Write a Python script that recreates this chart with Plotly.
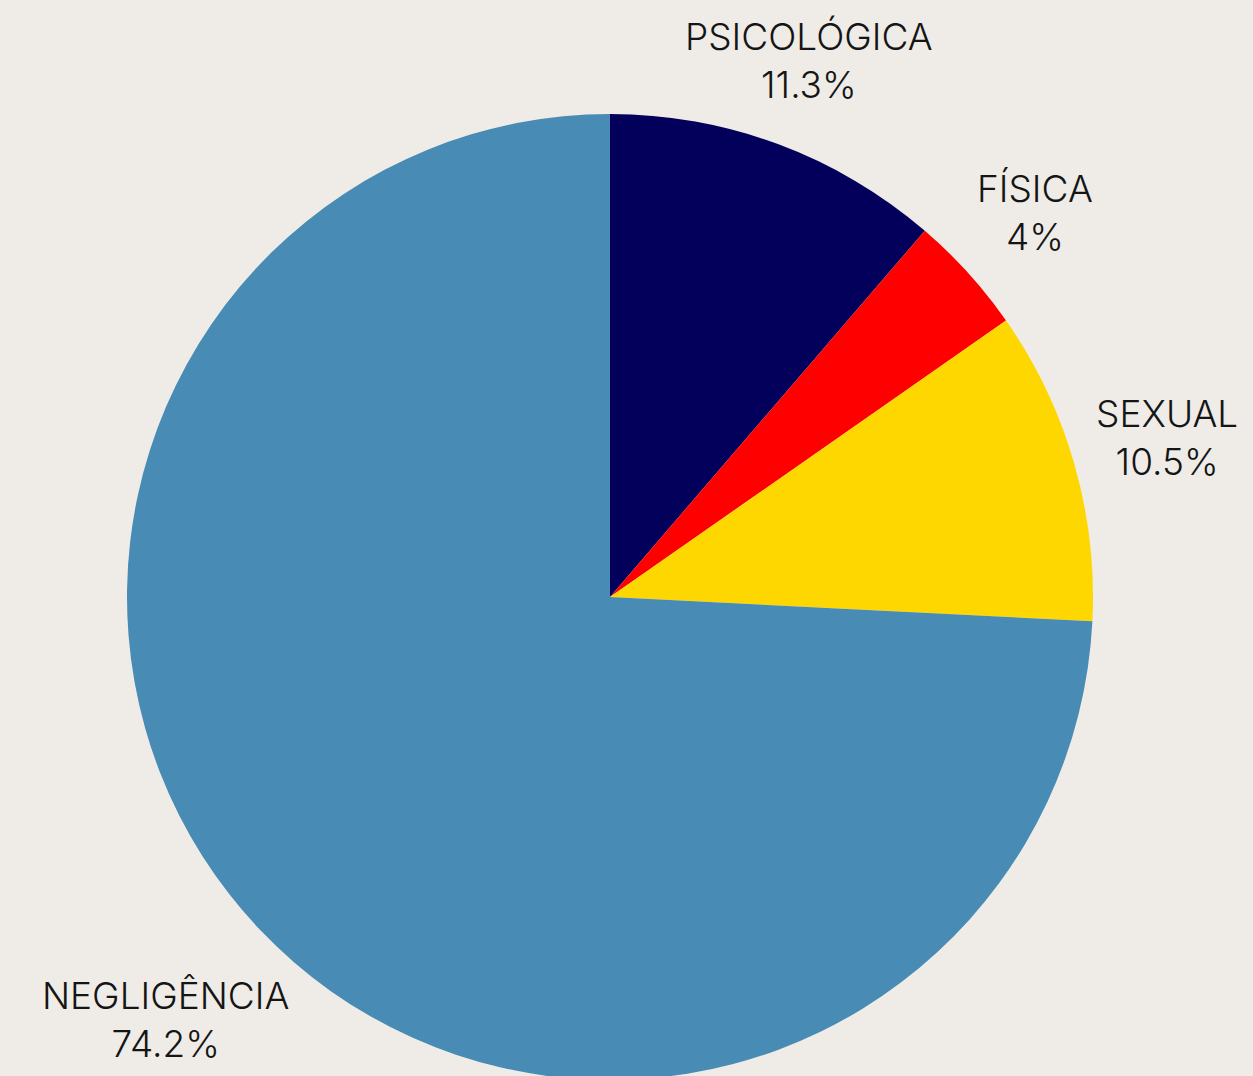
import math
import plotly.graph_objects as go

categories = ["PSICOLÓGICA", "FÍSICA", "SEXUAL", "NEGLIGÊNCIA"]
values = [11.3, 4, 10.5, 74.2]
colors = ["#03005C", "#FF0000", "#FFD700", "#488BB4"]

# layout constants (pixels)
W, H = 1253, 1084
CX, CY, R = 610, 597, 483
label_dist = [1.184, 1.186, 1.199, 1.269]  # label centre distance / radius

fig = go.Figure(go.Pie(
    labels=categories,
    values=values,
    sort=False,
    direction="clockwise",
    rotation=0,
    marker=dict(colors=colors, line=dict(width=0)),
    textinfo="none",
    domain=dict(x=[(CX - R) / W, (CX + R) / W],
                y=[(H - (CY + R)) / H, (H - (CY - R)) / H]),
    showlegend=False,
    hoverinfo="label+percent",
))

total = sum(values)
cum = 0
annotations = []
for lab, v, f in zip(categories, values, label_dist):
    mid = (cum + v / 2) / total * 2 * math.pi
    cum += v
    px = CX + R * f * math.sin(mid)
    py = CY - R * f * math.cos(mid)
    pct = f"{v / total * 100:.3g}"
    annotations.append(dict(
        x=px / W, y=1 - py / H, xref="paper", yref="paper",
        text=f"{lab}<br>{pct}%", showarrow=False,
        xanchor="center", yanchor="middle", align="center",
        font=dict(family="Inter", size=37, color="#151515", weight=300),
    ))

fig.update_layout(
    width=W, height=H,
    margin=dict(l=0, r=0, t=0, b=0),
    paper_bgcolor="#EFECE8",
    plot_bgcolor="#EFECE8",
    annotations=annotations,
)

fig.write_html(
    "out.html",
    config={"displayModeBar": False},
    post_script=(
        "document.body.style.margin='0';"
        "document.body.style.overflow='hidden';"
        "document.documentElement.style.overflow='hidden';"
        "document.body.style.background='#EFECE8';"
    ),
)
